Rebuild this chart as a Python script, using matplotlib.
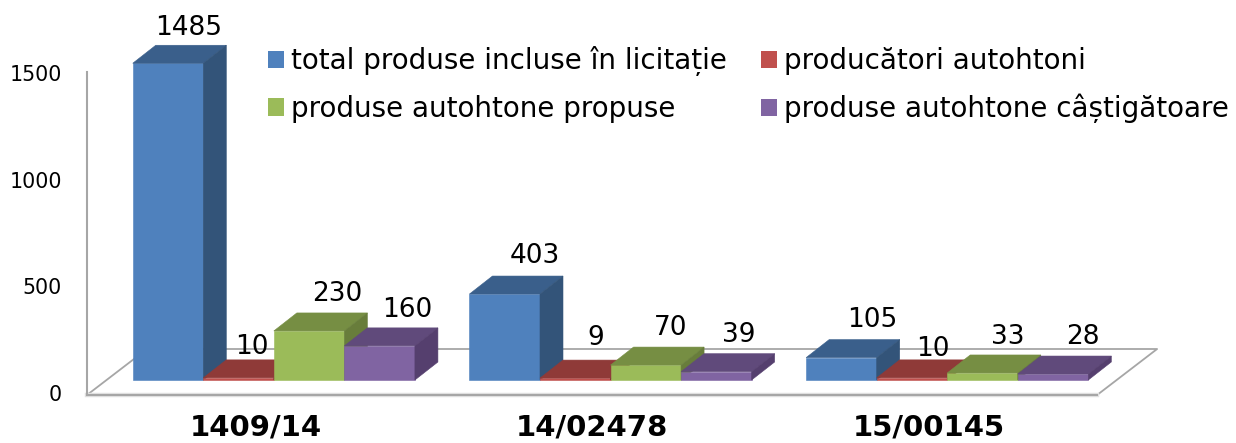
#!/usr/bin/env python3
"""Excel-style 3D clustered columns, drawn on a flat axes with skewed faces."""
import numpy as np
import matplotlib
matplotlib.use("Agg")
import matplotlib.pyplot as plt
from matplotlib.patches import Patch, Polygon

CATEGORIES = ["1409/14", "14/02478", "15/00145"]
SERIES = ["total produse incluse în licitație", "producători autohtoni",
          "produse autohtone propuse", "produse autohtone câștigătoare"]
TOTAL   = [1485, 403, 105]
PRODUC  = [10, 9, 10]
PROPUSE = [230, 70, 33]
CASTIG  = [160, 39, 28]
YTICKS  = [0, 500, 1000, 1500]

FRONT = ["#4F81BD", "#C0504D", "#9BBB59", "#8064A2"]
TOP   = ["#3A5F8B", "#8F3A38", "#768E43", "#604A7B"]
SIDE  = ["#335479", "#7A302E", "#687D3B", "#553F6E"]
AXIS_C = "#A6A6A6"

# pixel layout of the picture
W, H = 1236, 443
X0_PX, CAT_PX = 87, 336.7
Y0_PX, UNIT_PX = 395, 0.2133
BAR_W = 0.2095
BAR_GAP = 0.0765

px_x = 1 / CAT_PX        # one pixel in x data units
px_y = 1 / UNIT_PX       # one pixel in y data units

# bars stand part way back on the floor
SHIFT = np.array([20 * px_x, 15 * px_y])
DEPTH = np.array([23 * px_x, 18 * px_y])
FLOOR = np.array([60 * px_x, 46 * px_y])

# label offset from the top-centre of the front face, in pixels
LABEL_DX = [[21, 13, 28, 28], [30, 20, 25, 22], [31, 21, 25, 30]]
LABEL_DY = [[35, 31, 37, 36], [38, 40, 37, 37], [38, 29, 36, 37]]


def face(ax, pts, color):
    ax.add_patch(Polygon(pts, closed=True, facecolor=color, edgecolor=color,
                         lw=0.4, zorder=3))


def main():
    fig = plt.figure(figsize=(W / 100, H / 100), dpi=100)
    ax = fig.add_axes([0, 0, 1, 1])
    ax.set_xlim(-X0_PX * px_x, (W - X0_PX) * px_x)
    ax.set_ylim((Y0_PX - H) * px_y, Y0_PX * px_y)
    ax.axis("off")

    # floor and value axis
    fx, fy = FLOOR
    ax.plot([3, 3 + fx, fx, 0], [0, fy, fy, 0], color=AXIS_C, lw=1.3, zorder=1)
    ax.plot([0, 3], [0, 0], color="#E2E2E2", lw=3.2, zorder=1)
    ax.plot([0, 3], [0, 0], color=AXIS_C, lw=1.5, zorder=2)
    ax.plot([0, 0], [0, 1513], color=AXIS_C, lw=1.5, zorder=2)

    for v in YTICKS:
        ax.text(-25 * px_x, v, str(v), ha="right", va="center", fontsize=14.8,
                color="black", zorder=5)

    values = [TOTAL, PRODUC, PROPUSE, CASTIG]
    dx, dy = DEPTH
    for c in range(len(CATEGORIES)):
        for s in range(len(SERIES)):
            v = values[s][c]
            x = c + BAR_GAP + s * BAR_W + SHIFT[0]
            y = SHIFT[1]
            ax.bar(x, v, BAR_W, bottom=y, align="edge", color=FRONT[s],
                   edgecolor=FRONT[s], lw=0.4, zorder=3)
            face(ax, [(x, y + v), (x + BAR_W, y + v),
                      (x + BAR_W + dx, y + v + dy), (x + dx, y + v + dy)], TOP[s])
            face(ax, [(x + BAR_W, y), (x + BAR_W + dx, y + dy),
                      (x + BAR_W + dx, y + v + dy), (x + BAR_W, y + v)], SIDE[s])
            ax.annotate(str(v), (x + BAR_W / 2, y + v),
                        xytext=(LABEL_DX[c][s], LABEL_DY[c][s]),
                        textcoords="offset pixels", ha="center", va="center",
                        fontsize=19, color="black", zorder=6)

    for c, name in enumerate(CATEGORIES):
        ax.text(c + 0.5, (Y0_PX - 428) * px_y, name, ha="center", va="center",
                fontsize=21, fontweight="bold", color="black", zorder=5)

    handles = [Patch(facecolor=FRONT[s], edgecolor="none") for s in range(4)]
    # legend fills by column, the picture reads by row
    order = [0, 2, 1, 3]
    ax.legend([handles[i] for i in order], [SERIES[i] for i in order],
              ncol=2, frameon=False, fontsize=20, loc="upper left",
              bbox_to_anchor=(268 / W, 1 - 46 / H), borderaxespad=0, borderpad=0,
              handlelength=0.58, handleheight=0.58, handletextpad=0.25,
              labelspacing=0.68, columnspacing=1.22)

    fig.savefig("out.png", dpi=100, facecolor="white")
    plt.close(fig)


if __name__ == "__main__":
    main()
